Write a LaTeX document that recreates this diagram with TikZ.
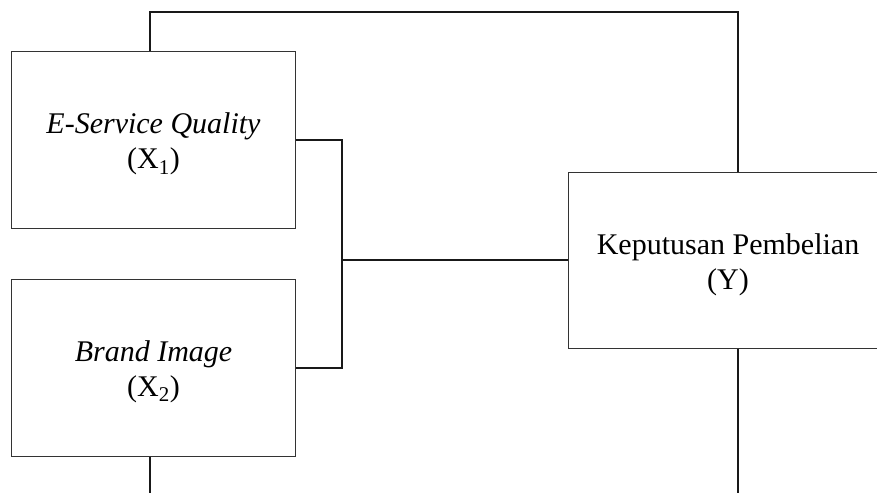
\documentclass[tikz,border=0pt]{standalone}
\usepackage{fontspec}
\setmainfont{Liberation Serif}
\begin{document}
\begin{tikzpicture}[x=1pt,y=1pt,
  varbox/.style={draw=black!80, line width=1.1pt, rectangle, inner sep=0pt},
  vartext/.style={align=center, inner sep=0pt, font=\fontsize{30}{35}\selectfont},
  conn/.style={draw=black!90, line width=1.9pt}]
\useasboundingbox (0,0) rectangle (877,-492);
\clip (0,0) rectangle (877,-492);
\node[varbox, minimum width=283.6pt, minimum height=177pt] (X1) at (153.5,-140.2) {};
\node[varbox, minimum width=283.6pt, minimum height=176.7pt] (X2) at (153.5,-367.7) {};
\node[varbox, minimum width=319.4pt, minimum height=176pt] (Y) at (728,-260.3) {};
\node[vartext] (X1t) at ([yshift=-4pt]X1.center) {\textit{E-Service Quality}\\(X\textsubscript{1})};
\node[vartext] (X2t) at ([yshift=-4pt]X2.center) {\textit{Brand Image}\\(X\textsubscript{2})};
\node[vartext] (Yt) at ([yshift=-4pt]Y.center) {Keputusan Pembelian\\(Y)};
\coordinate (J) at (342.3,-260.3);
\coordinate (T1) at ([xshift=-3.5pt]X1.north);
\coordinate (T2) at ([xshift=9.7pt]Y.north);
\coordinate (B1) at ([xshift=-3.5pt]X2.south);
\coordinate (B2) at ([xshift=9.7pt]Y.south);
\coordinate (E1) at (150,-500);
\coordinate (E2) at (737.7,-500);
\draw[conn] (T1) -- ++(0,39.4) -| (T2);
\draw[conn] (B1) -- (E1);
\draw[conn] (B2) -- (E2);
\draw[conn] (X1.east) -| (J) |- (X2.east);
\draw[conn] (J) -- (Y.west);
\end{tikzpicture}
\end{document}
